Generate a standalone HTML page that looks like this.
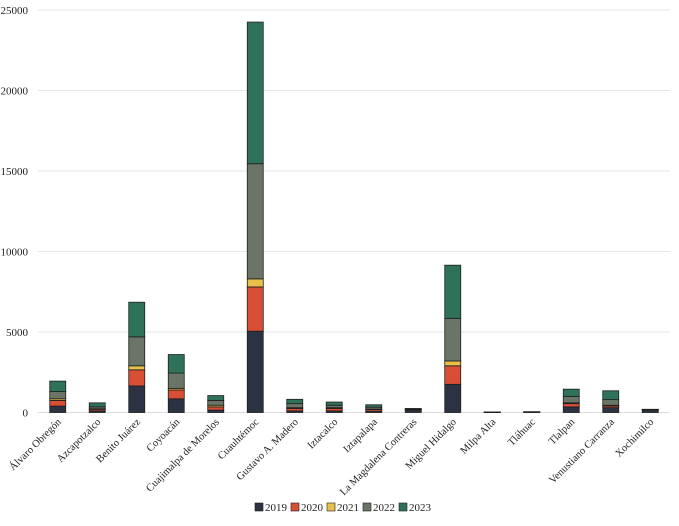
<!DOCTYPE html>
<html><head><meta charset="utf-8"><style>
body{margin:0;background:#fff}
svg{font-family:"Liberation Serif",serif;font-size:11px;fill:#222}
</style></head><body>
<svg id="c" width="679" height="521"></svg>
<script>
const categories=["Álvaro Obregón","Azcapotzalco","Benito Juárez","Coyoacán","Cuajimalpa de Morelos","Cuauhtémoc","Gustavo A. Madero","Iztacalco","Iztapalapa","La Magdalena Contreras","Miguel Hidalgo","Milpa Alta","Tláhuac","Tlalpan","Venustiano Carranza","Xochimilco"];
const seriesNames=["2019","2020","2021","2022","2023"];
const s2019=[400,100,1650,850,150,5050,100,100,80,150,1750,5,10,350,300,150];
const s2020=[350,100,1000,550,200,2750,150,150,100,30,1150,5,10,200,100,20];
const s2021=[100,30,250,100,100,500,50,50,30,10,300,5,5,50,50,10];
const s2022=[450,120,1800,950,300,7150,250,150,120,30,2650,10,15,400,350,10];
const s2023=[650,250,2150,1150,300,8800,270,200,150,30,3300,5,10,450,550,10];
const yTicks=[0,5000,10000,15000,20000,25000];
const colors=["#2b3242","#d94f35","#e8c04a","#6b7567","#2e7359"];
const series=[s2019,s2020,s2021,s2022,s2023];
const NS="http://www.w3.org/2000/svg",svg=document.getElementById("c");
const x0=38,x1=670,y0=412.5,yTop=10;
const y=v=>y0-(v/25000)*(y0-yTop);
const step=(x1-x0)/categories.length;
const xc=i=>x0+step*(i+0.5);
function mk(t,a,p){const e=document.createElementNS(NS,t);for(const k in a)e.setAttribute(k,a[k]);(p||svg).appendChild(e);return e;}
yTicks.forEach(v=>{
  if(v>0){const g=mk("line",{x1:x0,x2:x1,y1:y(v),y2:y(v),stroke:"#e6e6e6"});
  
  }
  const t=mk("text",{x:x0-10,y:y(v)+4,"text-anchor":"end"});t.textContent=v;
  
  
});
const ax=mk("line",{x1:x0,x2:x1,y1:y0,y2:y0,stroke:"#ddd"});


categories.forEach((c,i)=>{
  let acc=0;
  series.forEach((s,k)=>{
    const v=s[i];if(v<=0)return;
    const r=mk("rect",{x:xc(i)-8,width:16,y:y(acc+v),height:y(acc)-y(acc+v),fill:colors[k],stroke:"#1e1e1e","stroke-width":0.8});
    
    
    acc+=v;
  });
  const t=mk("text",{x:0,y:0,"text-anchor":"end","font-size":"10.5",transform:`translate(${xc(i)+4},${y0+10}) rotate(-45)`});
  t.textContent=c;
  
  
});
const lg=mk("g",{});


let lx=255;
seriesNames.forEach((n,k)=>{
  const r=mk("rect",{x:lx,y:503,width:8,height:8,fill:colors[k],stroke:"#1e1e1e","stroke-width":0.6},lg);
  
  
  const t=mk("text",{x:lx+10,y:511},lg);t.textContent=n;
  
  
  lx+=36;
});
</script>
</body></html>
